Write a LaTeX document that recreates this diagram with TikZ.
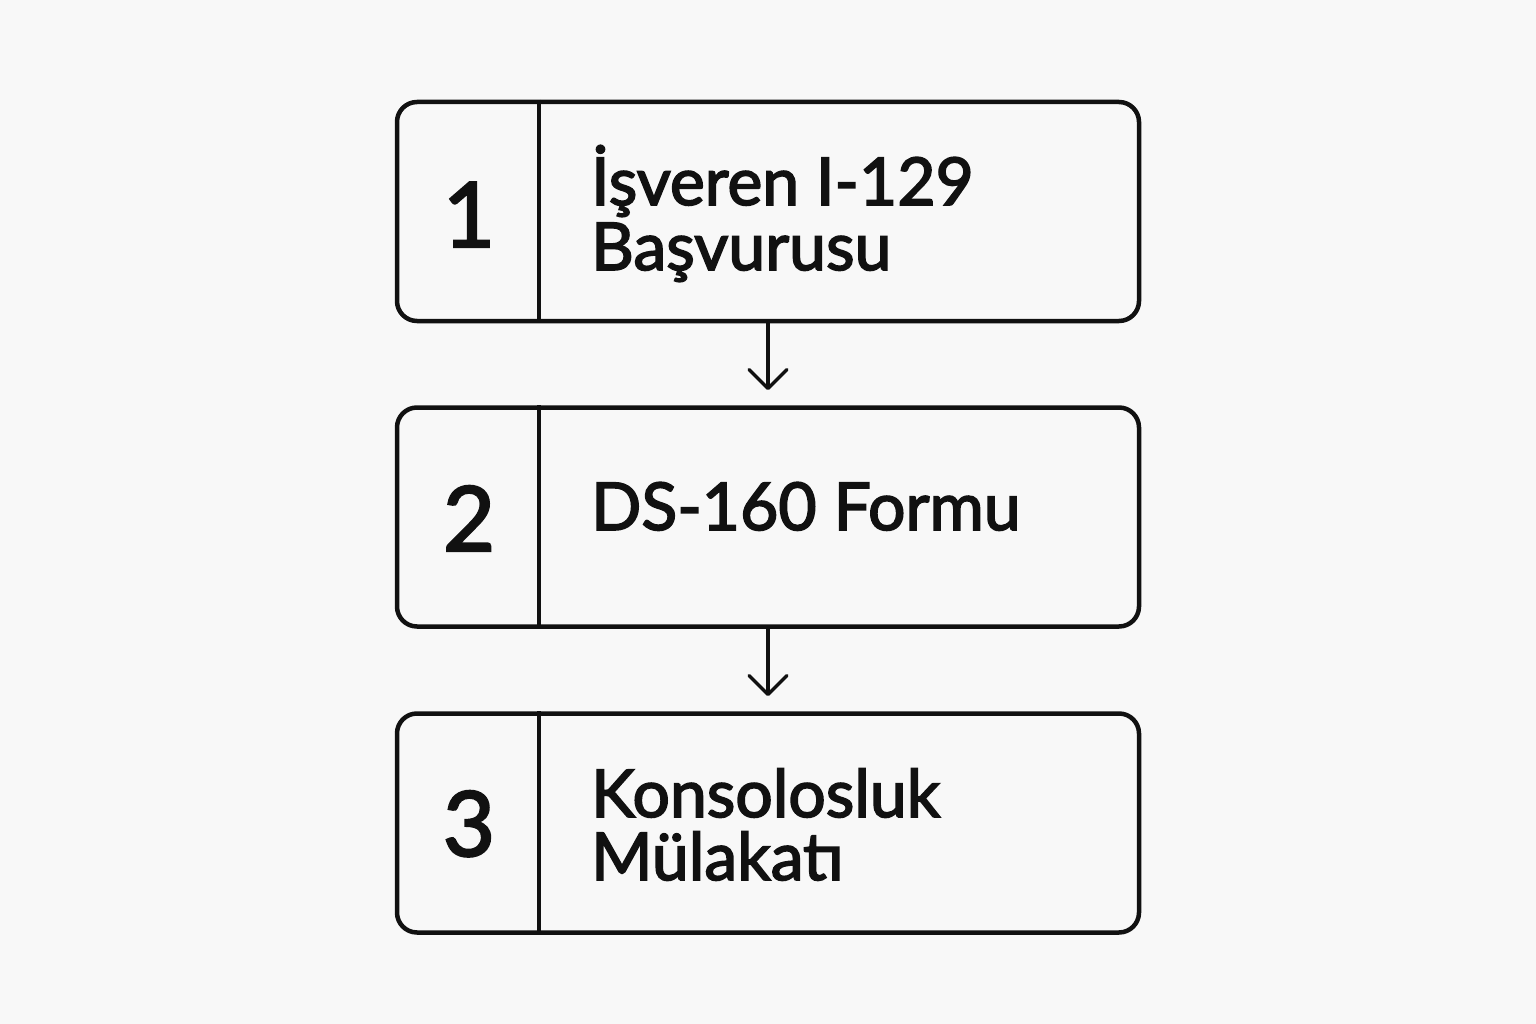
\documentclass[tikz,border=0pt]{standalone}
\usepackage{fontspec}
\setmainfont{Lato}
\newfontfamily\labfont{Lato}[FakeBold=2.5]
\usetikzlibrary{arrows.meta}
\definecolor{bgc}{HTML}{F8F8F8}
\definecolor{ink}{HTML}{111111}
\tikzset{
  stepbox/.style={draw=ink, line width=4.5pt, rounded corners=20pt, minimum width=742pt, minimum height=219pt, inner sep=0pt},
  divline/.style={draw=ink, line width=4.5pt},
  numlab/.style={anchor=base, inner sep=0pt, text=ink, font=\labfont\fontsize{90}{90}\selectfont},
  txtlab/.style={anchor=base west, inner sep=0pt, text=ink, font=\labfont\fontsize{66}{66}\selectfont},
  flowarrow/.style={draw=ink, line width=3.5pt, -{Straight Barb[length=19pt, width=38pt, line cap=round, line join=round]}, shorten >=15pt}
}
\begin{document}
\begin{tikzpicture}[x=1pt,y=-1pt]
\fill[bgc] (0,0) rectangle (1536,1024);
\useasboundingbox (0,0) rectangle (1536,1024);
\node[stepbox] (b1) at (768,211.5) {};
\node[stepbox] (b2) at (768,517) {};
\node[stepbox] (b3) at (768,823) {};
\foreach \b in {b1,b2,b3}{
  \draw[divline] ([xshift=144pt]\b.north west) -- ([xshift=144pt]\b.south west);
}
\node[numlab] (n1) at (469,247) {1};
\node[numlab] (n2) at (469,551) {2};
\node[numlab] (n3) at (469,856) {3};
\node[txtlab] (t1a) at (591,205) {İşveren I-129};
\node[txtlab] (t1b) at (591,270) {Başvurusu};
\node[txtlab] (t2) at (591,530) {DS-160 Formu};
\node[txtlab] (t3a) at (591,817) {Konsolosluk};
\node[txtlab] (t3b) at (591,880) {Mülakatı};
\draw[flowarrow] (b1.south) -- (b2.north);
\draw[flowarrow] (b2.south) -- (b3.north);
\end{tikzpicture}
\end{document}
